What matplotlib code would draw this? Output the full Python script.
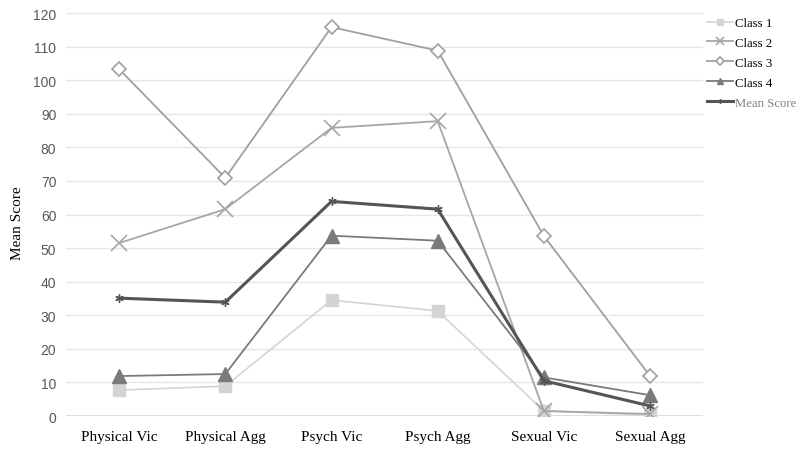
import matplotlib.pyplot as plt

categories = ['Physical Vic', 'Physical Agg', 'Psych Vic', 'Psych Agg', 'Sexual Vic', 'Sexual Agg']
class1 = [7.7, 8.9, 34.5, 31.3, 1.5, 0.3]
class2 = [51.5, 61.6, 85.8, 87.8, 1.5, 0.6]
class3 = [103.3, 70.9, 115.8, 108.8, 53.6, 11.9]
class4 = [11.9, 12.5, 53.7, 52.2, 11.5, 6.2]
mean_score = [35.1, 33.9, 63.9, 61.6, 10.5, 3.0]
yticks = list(range(0, 121, 10))

fig = plt.figure(figsize=(8, 4.52), dpi=100)
ax = fig.add_axes([0.0825, 0.0774, 0.7965, 0.8916])

x = list(range(len(categories)))

ax.plot(x, class1, color='#d4d4d4', lw=1.2, marker='s', ms=8, mec='#d4d4d4', mfc='#d4d4d4', label='Class 1', zorder=3)
ax.plot(x, class2, color='#a6a6a6', lw=1.3, marker='x', ms=11, mew=1.2, label='Class 2', zorder=3)
ax.plot(x, class3, color='#a0a0a0', lw=1.3, marker='D', ms=7.5, mfc='white', mec='#a0a0a0', mew=1.2, label='Class 3', zorder=3)
ax.plot(x, class4, color='#7a7a7a', lw=1.3, marker='^', ms=10, mfc='#7a7a7a', mec='#7a7a7a', label='Class 4', zorder=4)
ax.plot(x, mean_score, color='#555555', lw=2.2, marker=(6, 2, 0), ms=6, mew=1.0, label='Mean Score', zorder=5)

ax.set_xlim(-0.5, len(categories) - 0.5)
ax.set_ylim(0, 120)
ax.set_yticks(yticks)
ax.set_xticks(x)
ax.set_xticklabels(categories, family='Liberation Serif', fontsize=11, color='black')
for lab in ax.get_yticklabels():
    lab.set_family('Liberation Sans')
    lab.set_fontsize(10)
    lab.set_color('#595959')
ax.tick_params(length=0)
ax.tick_params(axis='x', pad=10)
ax.tick_params(axis='y', pad=7)
ax.grid(axis='y', color='#e6e6e6', lw=1)
ax.set_axisbelow(True)
for s in ax.spines.values():
    s.set_visible(False)
ax.axhline(0, color='#d9d9d9', lw=1.2, zorder=1)

ax.set_ylabel('Mean Score', family='Liberation Serif', fontsize=11)
ax.yaxis.set_label_coords(-0.066, 0.48)

leg = fig.legend(loc='upper left', bbox_to_anchor=(0.872, 0.98), frameon=False,
                 prop={'family': 'Liberation Serif', 'size': 9.2}, handlelength=2.1,
                 handletextpad=0.15, labelspacing=0.62, markerscale=0.5, borderpad=0.2)
leg.get_texts()[4].set_color('#808080')

fig.savefig('out.png', dpi=100)
